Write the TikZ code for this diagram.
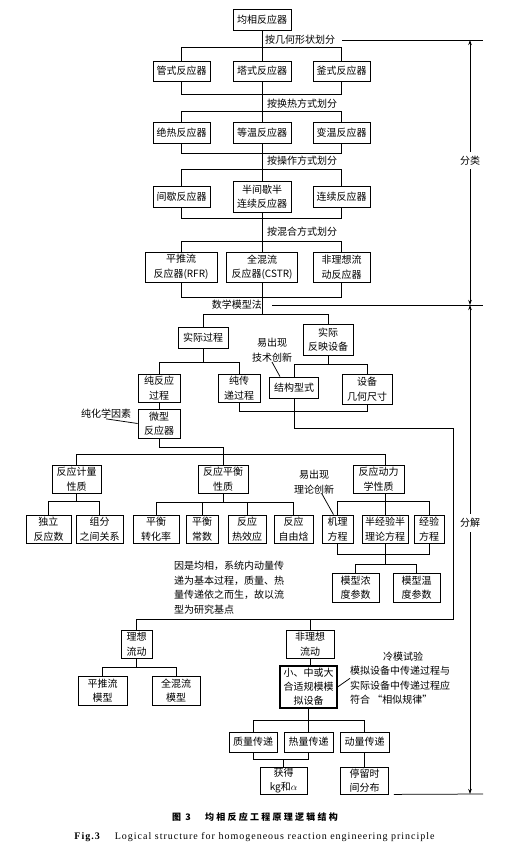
\documentclass[tikz,border=0pt]{standalone}
\usepackage{fontspec}
\setmainfont{Noto Sans CJK SC}
\newfontfamily\enfont[LetterSpace=10]{Liberation Serif}
\newfontfamily\capfont[LetterSpace=25]{Noto Sans CJK SC}
\usetikzlibrary{arrows.meta,calc}
\newcommand\fs{\fontsize{10}{14.5}\selectfont}
\newcommand\bx[6]{\node[box,minimum width=#4pt,minimum height=#5pt] (#1) at (#2,#3) {#6};}
\begin{document}
\begin{tikzpicture}[x=1pt,y=-1pt,
  box/.style={draw, line width=0.8pt, inner sep=0pt, align=center, font=\fs},
  lbl/.style={inner sep=0pt, align=center, font=\fs},
  con/.style={line width=0.75pt},
  dblarrow/.style={line width=0.75pt, {Stealth[length=5pt,width=3.5pt]}-{Stealth[length=5pt,width=3.5pt]}}]
\useasboundingbox (0,0) rectangle (523,846);

% ---------- classification part ----------
\bx{root}{262}{19.5}{58}{21}{均相反应器}
\bx{tube}{181.5}{71}{57}{20}{管式反应器}
\bx{tower}{262}{71}{58}{20}{塔式反应器}
\bx{kettle}{341.5}{71}{57}{20}{釜式反应器}
\bx{adia}{181.5}{132.5}{57}{21}{绝热反应器}
\bx{isot}{262}{132.5}{58}{21}{等温反应器}
\bx{vart}{341.5}{132.5}{57}{21}{变温反应器}
\bx{batch}{181.5}{196.5}{57}{21}{间歇反应器}
\bx{semi}{262}{196.5}{58}{31}{半间歇半\\连续反应器}
\bx{cont}{341.5}{196.5}{57}{21}{连续反应器}
\bx{pf}{181}{267}{72}{30}{平推流\\反应器(RFR)}
\bx{cstr}{262}{267}{71}{30}{全混流\\反应器(CSTR)}
\bx{nonr}{341.5}{267}{57}{30}{非理想流\\动反应器}

\node[lbl,anchor=west] (l1) at (265,40) {按几何形状划分};
\node[lbl,anchor=west] (l2) at (267,104) {按换热方式划分};
\node[lbl,anchor=west] (l3) at (267,160.5) {按操作方式划分};
\node[lbl,anchor=west] (l4) at (267,232) {按混合方式划分};
\node[lbl,anchor=east] (math) at (262,305) {数学模型法};

\draw[con] (root) -- (tower);
\draw[con] (tube.north) -- ++(0,-13) -| (kettle.north);
\draw[con] (tube.south) -- ++(0,13) -| (kettle.south);
\draw[con] (tower) -- (isot);
\draw[con] (adia.north) -- ++(0,-10) -| (vart.north);
\draw[con] (adia.south) -- ++(0,10) -| (vart.south);
\draw[con] (isot) -- (semi);
\draw[con] (batch.north) -- ++(0,-16) -| (cont.north);
\draw[con] (batch.south) -- ++(0,11) -| (cont.south);
\draw[con] (semi) -- (cstr);
\draw[con] (pf.north) -- ++(0,-10) -| (nonr.north);
\draw[con] (pf.south) -- ++(0,15) -| (nonr.south);
\draw[con] (cstr.south) -- ++(0,33);

% ---------- right side arrows ----------
\coordinate (rA) at (483,40);
\coordinate (rB) at (483,305);
\coordinate (rC) at (483,794);
\coordinate (a1) at (470,40);
\coordinate (a2) at (470,305);
\coordinate (a3) at (470,794);
\draw[con] ([xshift=7pt]l1.east) -- (rA);
\draw[con] ([xshift=10pt]math.east) -- (rB);
\draw[dblarrow] (a1) -- (a2);
\draw[dblarrow] (a2) -- (a3);
\node[lbl, fill=white, inner ysep=4pt] (fl) at (470,160.5) {分类};
\node[lbl, fill=white, inner ysep=4pt] (fj) at (470,523) {分解};

% ---------- decomposition part ----------
\bx{act}{203}{337.5}{50}{21}{实际过程}
\bx{eq}{328}{339.5}{50}{31}{实际\\反映设备}
\node[lbl] (tc) at (272,350) {易出现\\技术创新};
\bx{pr}{159}{388}{42}{28}{纯反应\\过程}
\bx{pt}{239}{388}{42}{28}{纯传\\递过程}
\bx{st}{294}{387.5}{49}{21}{结构型式}
\bx{gd}{367}{389}{50}{30}{设备\\几何尺寸}
\bx{micro}{159}{423.5}{42}{29}{微型\\反应器}
\node[lbl] (pcf) at (106,414) {纯化学因素};

\draw[con] (act.north) -- ++(0,-12) -| (eq.north);
\draw[con] (act.south) -- ++(0,15);
\draw[con] (pr.north) -- ++(0,-11) -| (pt.north);
\draw[con] (eq.south) -- ++(0,10);
\draw[con] (st.north) -- ++(0,-12) -| (gd.north);
\draw[con] (pt.south) -- ++(0,9) -| (gd.south);
\coordinate (k1) at (453,428);
\coordinate (k2) at (453,619);
\draw[con] (pr) -- (micro);
\draw[con] (pcf.south) -- (micro.west);
\draw[con] (tc.south) -- ([xshift=-14pt]st.north);

\bx{rs}{76.5}{479}{49}{28}{反应计量\\性质}
\bx{re}{223}{479}{50}{28}{反应平衡\\性质}
\bx{rk}{378.5}{479}{51}{28}{反应动力\\学性质}
\node[lbl] (ti) at (314,482) {易出现\\理论创新};
\draw[con] (micro.south) -- ++(0,9) -| (re.north);
\draw[con] (rs.north) -- ++(0,-10) -| ([xshift=7pt]rk.north);

\bx{ir}{48.5}{529}{45}{28}{独立\\反应数}
\bx{cr}{99.5}{529}{47}{28}{组分\\之间关系}
\bx{ec}{156}{529}{46}{28}{平衡\\转化率}
\bx{ek}{202}{529}{32}{28}{平衡\\常数}
\bx{rh}{247}{529}{38}{28}{反应\\热效应}
\bx{rg}{293.5}{529}{39}{28}{反应\\自由焓}
\bx{me}{337.5}{529}{31}{28}{机理\\方程}
\bx{se}{385}{529}{46}{28}{半经验半\\理论方程}
\bx{ee}{429}{529}{30}{28}{经验\\方程}
\bx{mc}{355.5}{587.5}{47}{29}{模型浓\\度参数}
\bx{mtp}{416.5}{587.5}{47}{29}{模型温\\度参数}

\draw[con] (rs.south) -- ++(0,9);
\draw[con] (ir.north) -- ++(0,-13) -| (cr.north);
\draw[con] (re.south) -- ++(0,10);
\draw[con] (ec.north) -- ++(0,-12) -| (rg.north);
\draw[con] (ek.north) -- ++(0,-12);
\draw[con] (rh.north) -- ++(0,-12);
\draw[con] ([xshift=7pt]rk.south) -- ++(0,9);
\draw[con] (me.north) -- ++(0,-13) -| (ee.north);
\draw[con] (se.north) -- ++(0,-13);
\draw[con] (me.south) -- ++(0,11) -| (ee.south);
\draw[con] (se.south) -- ++(0,22);
\draw[con] (mc.north) -- ++(0,-8) -| (mtp.north);
\draw[con] ([xshift=8pt]ti.south) -- ([xshift=-4pt]me.north);

\node[lbl, align=left, anchor=north west] (why) at (174,561) {因是均相，系统内动量传\\递为基本过程，质量、热\\量传递依之而生，故以流\\型为研究基点};

\bx{id}{136.5}{644}{31}{28}{理想\\流动}
\bx{nid}{310}{644}{48}{28}{非理想\\流动}
\bx{pm}{102.5}{690.5}{49}{29}{平推流\\模型}
\bx{cm}{176}{690.5}{48}{29}{全混流\\模型}
\node[box, line width=1.2pt, minimum width=57pt, minimum height=42pt, font=\fontsize{10}{14}\selectfont] (sm) at (308.5,687) {小、中或大\\合适规模模\\拟设备};
\bx{mt2}{253}{742}{48}{20}{质量传递}
\bx{ht}{308.5}{742}{49}{20}{热量传递}
\bx{mo}{364.5}{742}{49}{20}{动量传递}
\bx{gk}{283.5}{780.5}{47}{27}{获得\\kg和$\alpha$}
\bx{rt}{364.5}{780.5}{48}{27}{停留时\\间分布}

\node[lbl] (cold) at (403,657) {冷模试验};
\node[lbl, align=left, anchor=north west] (coldt) at (350,666) {模拟设备中传递过程与\\实际设备中传递过程应\\符合 “相似规律”};

\draw[con] (st.south) |- (k1) -- (k2) -| (id.north);
\draw[con] (nid.north) -- (nid.north |- k2);
\draw[con] (id.south) -- ++(0,10);
\draw[con] (pm.north) -- ++(0,-8) -| (cm.north);
\draw[con] (nid.south) -- (nid.south |- sm.north);
\draw[con] (sm.east) -- ([yshift=7pt]coldt.west);
\draw[con] (sm) -- (ht);
\draw[con] (mt2.north) -- ++(0,-11) -| (mo.north);
\draw[con] (mt2.south) -- ++(0,7) -| (ht.south);
\draw[con] (gk.north) -- ++(0,-8);
\draw[con] (mo) -- (rt);
\draw[con] ([xshift=5pt]rt.south east) -- (rC);

% ---------- captions ----------
\node[inner sep=0pt, font=\capfont\fontsize{9}{11}\selectfont\bfseries] (cap) at (255,817) {图 3\hspace{1.6em}均相反应工程原理逻辑结构};
\node[inner sep=0pt, font=\enfont\fontsize{10}{12}\selectfont] (capen) at (254.5,837) {\textbf{Fig.3}\hspace{1.4em}Logical structure for homogeneous reaction engineering principle};
\end{tikzpicture}
\end{document}
